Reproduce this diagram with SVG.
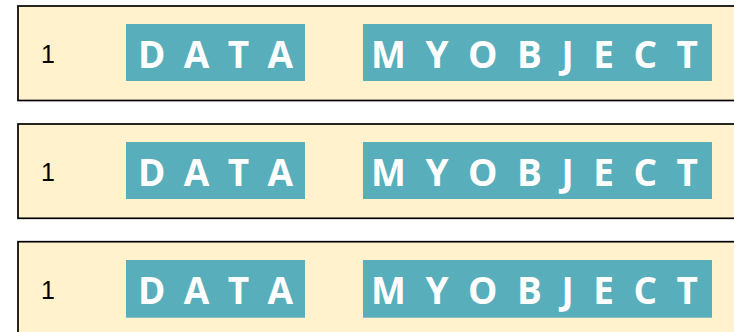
<svg xmlns="http://www.w3.org/2000/svg" width="734" height="332" viewBox="0 0 734 332">
<style>
.row{fill:#FFF2CC;stroke:#000;stroke-width:1.7}
.tag{fill:#58AEBB}
.num{font-family:"Liberation Sans",Arial,sans-serif;font-size:25px;fill:#000}
.lbl{font-family:"Open Sans","Liberation Sans",sans-serif;font-weight:bold;font-size:37px;fill:#fff}
</style>
<rect width="734" height="332" fill="#fff"/>
<g id="row1">
<rect class="row" x="18" y="6" width="730" height="94.5"/>
<text class="num" x="41" y="63.3">1</text>
<g id="data1"><rect class="tag" x="126" y="24" width="179" height="57"/><text class="lbl" x="138" y="67.5" textLength="155" lengthAdjust="spacing">DATA</text></g>
<g id="obj1"><rect class="tag" x="363" y="24" width="349" height="57"/><text class="lbl" x="371" y="67.5" textLength="327" lengthAdjust="spacing">MYOBJECT</text></g>
</g>
<g id="row2">
<rect class="row" x="18" y="124" width="730" height="94.3"/>
<text class="num" x="41" y="181.3">1</text>
<g id="data2"><rect class="tag" x="126" y="142" width="179" height="57"/><text class="lbl" x="138" y="185.5" textLength="155" lengthAdjust="spacing">DATA</text></g>
<g id="obj2"><rect class="tag" x="363" y="142" width="349" height="57"/><text class="lbl" x="371" y="185.5" textLength="327" lengthAdjust="spacing">MYOBJECT</text></g>
</g>
<g id="row3">
<rect class="row" x="18" y="241.7" width="730" height="100"/>
<text class="num" x="41" y="299.3">1</text>
<g id="data3"><rect class="tag" x="126" y="260" width="179" height="57.7"/><text class="lbl" x="138" y="303.5" textLength="155" lengthAdjust="spacing">DATA</text></g>
<g id="obj3"><rect class="tag" x="363" y="260" width="349" height="57.7"/><text class="lbl" x="371" y="303.5" textLength="327" lengthAdjust="spacing">MYOBJECT</text></g>
</g>
</svg>
